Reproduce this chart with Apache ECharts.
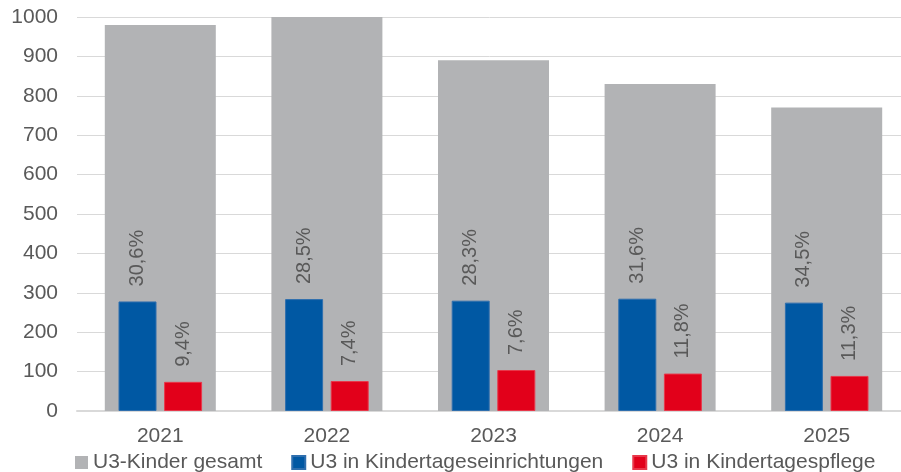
<!DOCTYPE html>
<html>
<head>
<meta charset="utf-8">
<script src="https://cdn.jsdelivr.net/npm/echarts@6/dist/echarts.min.js"></script>
<style>
  html, body { margin: 0; padding: 0; background: #fff; }
  #chart { width: 901px; height: 472px; }
</style>
</head>
<body>
<div id="chart"></div>
<script>
  // Jahre und Werte
  var years = ['2021', '2022', '2023', '2024', '2025'];
  var gesamt = [980, 1000, 890, 830, 770];
  var einrichtungen = [278, 284, 280, 285, 275];
  var pflege = [74, 76, 104, 95, 89];
  var quoteEinrichtungen = ['30,6%', '28,5%', '28,3%', '31,6%', '34,5%'];
  var quotePflege = ['9,4%', '7,4%', '7,6%', '11,8%', '11,3%'];
  var yTicks = [0, 100, 200, 300, 400, 500, 600, 700, 800, 900, 1000];

  var chart = echarts.init(document.getElementById('chart'));
  var font = 'Liberation Sans, Arial, sans-serif';

  var labelOption = function (texts) {
    return {
      show: true,
      position: 'top',
      rotate: 90,
      align: 'left',
      verticalAlign: 'middle',
      distance: 15,
      color: '#595959',
      fontSize: 20,
      fontFamily: font,
      formatter: function (p) { return texts[p.dataIndex]; }
    };
  };

  var option = {
    animation: false,
    textStyle: { fontFamily: font },
    // Zeichenfläche läuft rechts etwas über den Rand hinaus
    grid: { left: 77, right: -9, top: 17, bottom: 61, outerBoundsMode: 'none' },
    legend: {
      data: ['U3-Kinder gesamt', 'U3 in Kindertageseinrichtungen', 'U3 in Kindertagespflege'],
      left: 70,
      top: 447,
      icon: 'rect',
      itemWidth: 13,
      itemHeight: 13,
      itemGap: 29,
      textStyle: { color: '#595959', fontSize: 21, fontFamily: font }
    },
    xAxis: [
      {
        type: 'category',
        data: years,
        axisLine: { lineStyle: { color: '#d9d9d9', width: 2 } },
        axisTick: { show: false },
        axisLabel: { color: '#595959', fontSize: 21, margin: 15, fontFamily: font }
      },
      {
        type: 'category',
        data: years,
        show: false
      }
    ],
    yAxis: {
      type: 'value',
      min: yTicks[0],
      max: yTicks[yTicks.length - 1],
      interval: 100,
      axisLine: { show: false },
      axisTick: { show: false },
      axisLabel: {
        color: '#595959',
        fontSize: 21,
        margin: 19,
        fontFamily: font,
        formatter: function (v) { return String(v); }
      },
      splitLine: { lineStyle: { color: '#d9d9d9', width: 1 } }
    },
    series: [
      {
        name: 'U3-Kinder gesamt',
        type: 'bar',
        xAxisIndex: 0,
        barWidth: 111,
        itemStyle: { color: '#b2b3b5' },
        data: gesamt
      },
      {
        name: 'U3 in Kindertageseinrichtungen',
        type: 'bar',
        xAxisIndex: 1,
        barWidth: 38,
        barGap: '20%',
        itemStyle: { color: '#0058a3', borderColor: '#2f6fae', borderWidth: 1 },
        label: labelOption(quoteEinrichtungen),
        data: einrichtungen
      },
      {
        name: 'U3 in Kindertagespflege',
        type: 'bar',
        xAxisIndex: 1,
        barWidth: 38,
        barGap: '20%',
        itemStyle: { color: '#e2001a', borderColor: '#e8384a', borderWidth: 1 },
        label: labelOption(quotePflege),
        data: pflege
      }
    ]
  };

  chart.setOption(option);
</script>
</body>
</html>
